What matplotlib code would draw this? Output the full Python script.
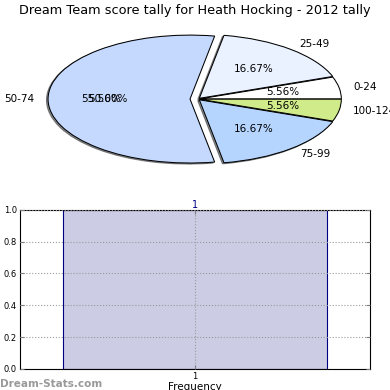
import matplotlib
matplotlib.use("Agg")
import matplotlib.pyplot as plt

# ── Data ──────────────────────────────────────────────────────────────────────
score_ranges = ["0-24", "25-49", "50-74", "75-99", "100-124"]
range_counts = [1, 3, 10, 3, 1]
slice_colors = ["#ffffff", "#eaf1ff", "#c5d9ff", "#b5d5ff", "#d0eb8a"]
explode = [0.01, 0.015, 0.056, 0.015, 0.01]

freq_labels = ["1"]
freq_values = [1]

fig = plt.figure(figsize=(3.9, 3.9), dpi=100)
fig.suptitle("Dream Team score tally for Heath Hocking - 2012 tally",
             fontsize=9.3, y=0.99)

# ── Pie ───────────────────────────────────────────────────────────────────────
ax1 = fig.add_axes([0.0526, 0.541, 0.910, 0.410])
wedges, texts, autotexts = ax1.pie(
    range_counts, labels=score_ranges, colors=slice_colors, explode=explode,
    autopct="%.2f%%", startangle=0,
    shadow=dict(ox=-0.008, oy=-0.012, shade=0.85),
    wedgeprops=dict(edgecolor="black", linewidth=0.75),
    textprops=dict(fontsize=7.5))
ax1.set_aspect("auto")
ax1.set_xlim(-1.25, 1.25)
ax1.set_ylim(-1.25, 1.25)
# overlapping label seen on the big slice
x, y = autotexts[2].get_position()
autotexts[2].set_x(x - 0.025)
ax1.text(x + 0.02, y, "50.00%", ha="center", va="center", fontsize=7.5)

# ── Bar ───────────────────────────────────────────────────────────────────────
ax2 = fig.add_axes([0.051, 0.054, 0.897, 0.408])
pos = [1]
ax2.bar(pos, freq_values, width=0.8, color="#000080", alpha=0.2,
        edgecolor="none")
ax2.bar(pos, freq_values, width=0.8, fill=False, edgecolor="#000080",
        linewidth=0.8)
for p, v in zip(pos, freq_values):
    ax2.text(p, v, str(v), ha="center", va="bottom", fontsize=7,
             color="#000080")
ax2.set_xlim(0.47, 1.53)
ax2.set_ylim(0, 1.0)
ax2.set_xticks(pos)
ax2.set_xticklabels(freq_labels)
ax2.set_yticks([0.0, 0.2, 0.4, 0.6, 0.8, 1.0])
ax2.tick_params(labelsize=6, length=3, color="gray", right=True, top=True,
                direction="in", pad=2)
ax2.grid(True, linestyle=":", color="#999999", linewidth=0.8)
ax2.set_axisbelow(False)
ax2.set_xlabel("Frequency", fontsize=7.5, labelpad=1)

fig.text(0.0, 0.008, "Dream-Stats.com", fontsize=7.5, color="gray",
         fontweight="bold", alpha=0.8)

plt.savefig("out.png", dpi=100)
plt.close()
